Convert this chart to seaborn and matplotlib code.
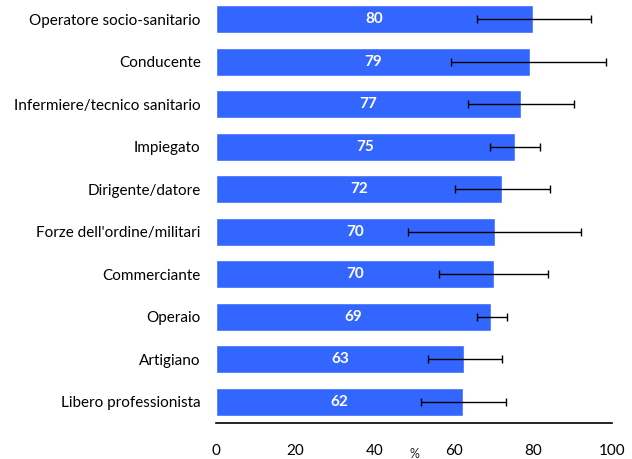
import matplotlib
matplotlib.use("Agg")
import matplotlib.pyplot as plt
import numpy as np
import pandas as pd
import seaborn as sns

# Data
professions = ['Operatore socio-sanitario',
               'Conducente',
               'Infermiere/tecnico sanitario',
               'Impiegato',
               'Dirigente/datore',
               "Forze dell'ordine/militari",
               'Commerciante',
               'Operaio',
               'Artigiano',
               'Libero professionista']
values = [80.1, 79.2, 76.9, 75.4, 72.3, 70.4, 70.1, 69.4, 62.7, 62.4]
ci_low = [65.8, 59.4, 63.6, 69.1, 60.3, 48.5, 56.3, 65.9, 53.5, 51.7]
ci_high = [94.8, 98.5, 90.4, 81.8, 84.4, 92.2, 83.9, 73.6, 72.1, 73.2]
xticks = [0, 20, 40, 60, 80, 100]

df = pd.DataFrame({'Professione': professions, 'Valore': values})

sns.set_style("white")
plt.rcParams['font.family'] = ['Lato', 'DejaVu Sans']

fig = plt.figure(figsize=(6.32, 4.59), dpi=100)
ax = fig.add_axes([216 / 632, 36 / 459, 396 / 632, 425 / 459])

sns.barplot(data=df, x='Valore', y='Professione', orient='h',
            color='#3366FF', saturation=1, width=0.67,
            errorbar=None, ax=ax)

# Asymmetric error bars
ypos = np.arange(len(professions))
vals = np.array(values)
xerr = [vals - np.array(ci_low), np.array(ci_high) - vals]
ax.errorbar(vals, ypos, xerr=xerr, fmt='none', ecolor='black',
            elinewidth=1, capsize=3, capthick=1)

# Value labels in the middle of the bars
for y, v in zip(ypos, values):
    ax.text(v / 2, y, f"{round(v):d}", ha='center', va='center',
            color='white', fontsize=11, fontweight='bold')

ax.set_xlim(0, 100)
ax.set_ylim(len(professions) - 0.5, -0.5)
ax.set_xticks(xticks)
ax.set_ylabel("")
ax.set_xlabel("%", fontsize=9)
ax.xaxis.set_label_coords(0.5, -0.058)

for side in ['top', 'right', 'left']:
    ax.spines[side].set_visible(False)
ax.spines['bottom'].set_color('black')
ax.spines['bottom'].set_linewidth(1.2)

ax.tick_params(axis='x', which='major', direction='out', length=4,
               width=1, color='black', labelsize=11, labelcolor='black', pad=11)
ax.tick_params(axis='y', which='major', length=0, labelsize=11,
               labelcolor='black', pad=11)

fig.savefig('out.png', dpi=100)
